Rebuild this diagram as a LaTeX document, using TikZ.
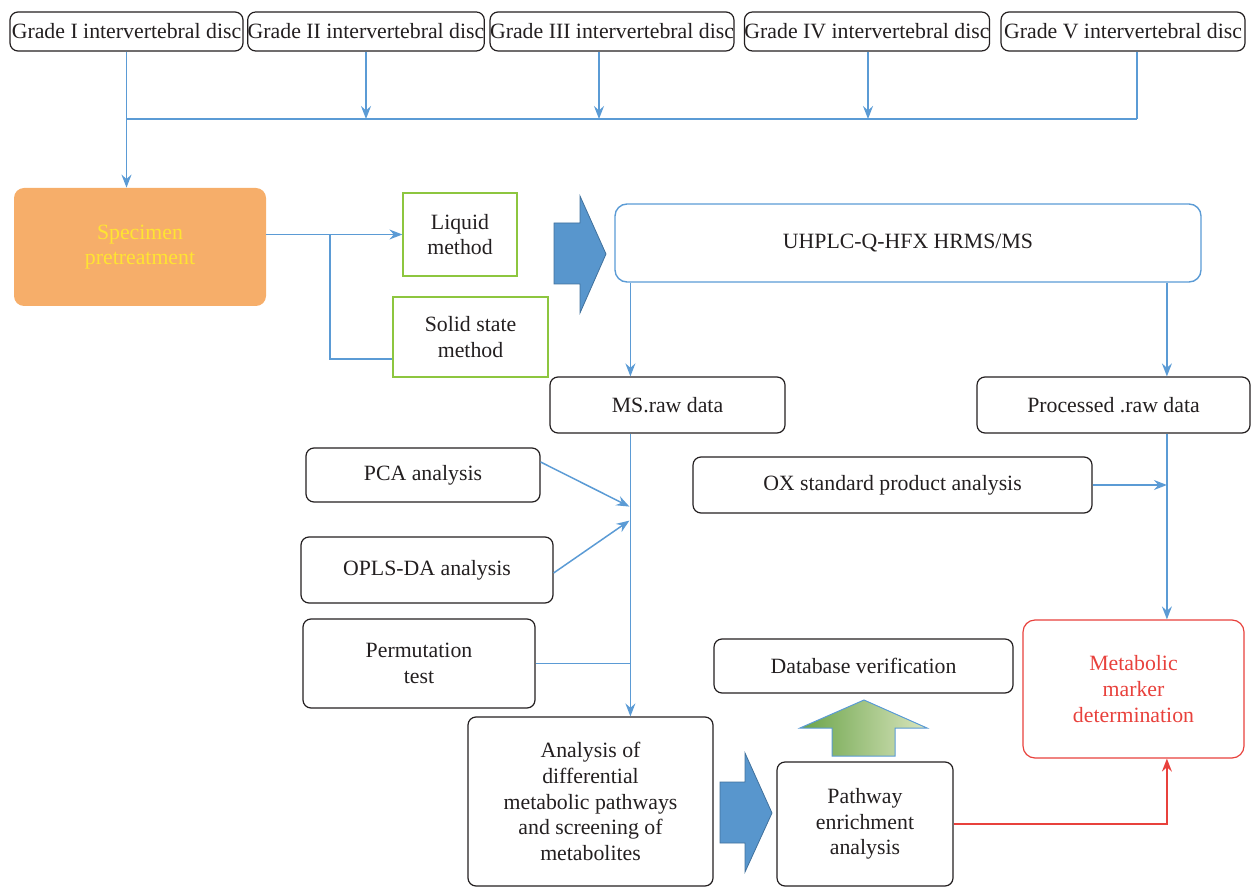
\documentclass[tikz,border=0pt]{standalone}
\usepackage{fontspec}
\setmainfont{Liberation Serif}
\usetikzlibrary{arrows.meta,calc}
\definecolor{bl}{RGB}{91,155,213}
\definecolor{arrfill}{RGB}{88,150,205}
\definecolor{arrdraw}{RGB}{65,113,156}
\definecolor{orng}{RGB}{246,174,106}
\definecolor{yel}{RGB}{255,228,50}
\definecolor{grn}{RGB}{141,198,63}
\definecolor{rd}{RGB}{232,65,60}
\definecolor{ink}{RGB}{35,31,32}
\definecolor{gdark}{RGB}{106,163,72}
\definecolor{glight}{RGB}{217,229,190}
\begin{document}
\begin{tikzpicture}[x=0.5pt,y=-0.5pt,
  every node/.style={font=\fontsize{10.9}{12.8}\selectfont, text=ink, align=center, inner sep=0pt},
  box/.style={draw=ink, line width=0.6pt, rounded corners=4pt},
  gbox/.style={draw=grn, line width=0.6pt},
  line/.style={draw=bl, line width=0.75pt},
  arr/.style={line, -{Stealth[length=6.5pt,width=5pt,inset=2.2pt]}},
  redarr/.style={draw=rd, line width=0.75pt, -{Stealth[length=6.5pt,width=5pt,inset=2.2pt]}},
  bigarrow/.style={fill=arrfill, draw=arrdraw, line width=0.4pt}
]
\useasboundingbox (0,0) rectangle (1251,887);

% grade boxes
\node[box, minimum width=116.5pt, minimum height=19.5pt] (G1) at (126.5,31.5) {Grade I intervertebral disc};
\node[box, minimum width=118pt, minimum height=19.5pt] (G2) at (366,31.5) {Grade II intervertebral disc};
\node[box, minimum width=119pt, minimum height=19.5pt] (G3) at (612,31.5) {Grade III intervertebral disc};
\node[box, minimum width=122pt, minimum height=19.5pt] (G4) at (867,31.5) {Grade IV intervertebral disc};
\node[box, minimum width=122pt, minimum height=19.5pt] (G5) at (1123,31.5) {Grade V intervertebral disc};
\coordinate (bus) at (0,119);
\coordinate (g3s) at ($(G3.south)+(-13,0)$);
\coordinate (g4s) at ($(G4.south)+(1,0)$);
\coordinate (g5s) at ($(G5.south)+(14,0)$);

% specimen and methods
\node[fill=orng, rounded corners=5pt, minimum width=126pt, minimum height=59pt, text=yel] (Spec) at (140,247) {Specimen\\pretreatment};
\node[gbox, minimum width=57pt, minimum height=41.5pt] (Liq) at (460,234.5) {Liquid\\method};
\node[gbox, minimum width=77.5pt, minimum height=40pt] (Sol) at (470.5,337) {Solid state\\method};
\coordinate (br) at (330,234.5);
\coordinate (solin) at ($(Sol.west)+(0,22)$);

% instrument
\node[draw=bl, line width=0.7pt, rounded corners=6pt, minimum width=293pt, minimum height=39pt] (UH) at (908,243) {UHPLC-Q-HFX HRMS/MS};

% data
\node[box, minimum width=117.5pt, minimum height=28pt] (MS) at (667.5,405) {MS.raw data};
\node[box, minimum width=136.5pt, minimum height=28pt] (Proc) at (1113.5,405) {Processed .raw data};
\coordinate (sp) at ($(MS.south west)+(81,0)$);
\coordinate (rs) at ($(Proc.south west)+(190.5,0)$);
\coordinate (pcain) at ($(sp)+(-1,73)$);
\coordinate (oplsin) at ($(sp)+(-1,87)$);

% analyses
\node[box, minimum width=117pt, minimum height=27pt] (PCA) at (423,475) {PCA analysis};
\node[box, minimum width=126pt, minimum height=33pt] (OPLS) at (427,570) {OPLS-DA analysis};
\node[box, minimum width=116pt, minimum height=44.5pt] (Perm) at (419,663.5) {Permutation\\test};
\node[box, minimum width=199.5pt, minimum height=28pt] (OX) at (892.5,485) {OX standard product analysis};
\node[box, minimum width=149.5pt, minimum height=27pt] (DB) at (863.5,666) {Database verification};
\node[draw=rd, line width=0.6pt, rounded corners=6pt, minimum width=110.5pt, minimum height=69pt, text=rd] (Met) at (1133.5,689) {Metabolic\\marker\\determination};
\node[box, minimum width=122.5pt, minimum height=84.5pt] (An) at (590.5,801.5) {Analysis of\\differential\\metabolic pathways\\and screening of\\metabolites};
\node[box, minimum width=88pt, minimum height=62pt] (Path) at (865,824) {Pathway\\enrichment\\analysis};

% big arrows
\draw[bigarrow] (554,223) -- (580,223) -- (580,196) -- (606,254) -- (580,313) -- (580,284) -- (554,284) -- cycle;
\draw[bigarrow] (720,782) -- (745,782) -- (745,753) -- (772,813) -- (745,872) -- (745,843) -- (720,843) -- cycle;
\draw[left color=gdark, right color=glight, draw=bl, line width=0.5pt] (832,756) -- (832,728) -- (800,728) -- (864,700) -- (927,728) -- (895,728) -- (895,756) -- cycle;

% connectors top
\draw[line] (G1.south |- bus) -- (g5s |- bus);
\draw[arr] (G1.south) -- (Spec.north -| G1.south);
\draw[arr] (G2.south) -- (G2.south |- bus);
\draw[arr] (g3s) -- (g3s |- bus);
\draw[arr] (g4s) -- (g4s |- bus);
\draw[line] (g5s) -- (g5s |- bus);

% specimen to methods
\draw[arr] (Liq.west -| Spec.east) -- (Liq.west);
\draw[line] (br) |- (solin);

% instrument to data
\draw[arr] (UH.south -| sp) -- (MS.north -| sp);
\draw[arr] (UH.south -| rs) -- (Proc.north -| rs);

% left spine
\draw[arr] (sp) -- (An.north -| sp);
\draw[arr] ($(PCA.east)+(0,-13)$) -- (pcain);
\draw[arr] ($(OPLS.east)+(0,3)$) -- (oplsin);
\draw[line] (Perm.east) -- (Perm.east -| sp);

% right spine
\draw[arr] (rs) -- (Met.north -| rs);
\draw[arr] (OX.east) -- (OX.east -| rs);
\draw[redarr] (Path.east) -| (Met.south -| rs);
\end{tikzpicture}
\end{document}
